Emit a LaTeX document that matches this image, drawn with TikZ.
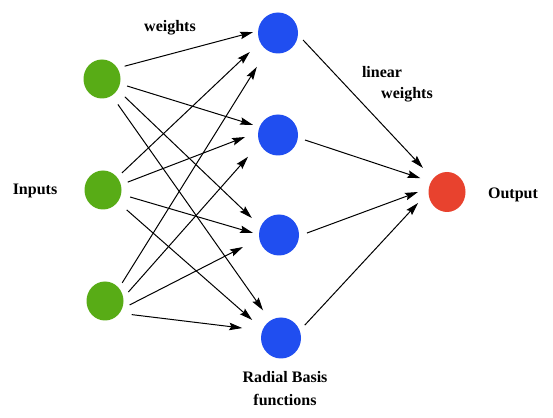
\documentclass[tikz,border=0pt]{standalone}
\usepackage{fontspec}
\setmainfont{Liberation Serif}
\usetikzlibrary{arrows.meta,calc,shapes.geometric}
\definecolor{ingreen}{RGB}{88,172,22}
\definecolor{rbfblue}{RGB}{32,78,240}
\definecolor{outred}{RGB}{232,66,46}
\tikzset{
  neuron/.style={ellipse,draw=none,inner sep=0pt},
  innode/.style={neuron,fill=ingreen,minimum width=37pt,minimum height=39pt},
  rbfnode/.style={neuron,fill=rbfblue,minimum width=40pt,minimum height=41pt},
  outnode/.style={neuron,fill=outred,minimum width=37pt,minimum height=40pt},
  arr/.style={line width=1pt,-{Stealth[length=13pt,width=7.5pt,inset=2pt]}},
  lbl/.style={font=\fontsize{16}{18}\selectfont\bfseries,inner sep=0pt,align=center}
}
\begin{document}
\begin{tikzpicture}[x=1pt,y=1pt]
\useasboundingbox (0,0) rectangle (553,417);
\fill[white] (0,0) rectangle (553,417);
% nodes
\node[innode] (g1) at (102,338) {};
\node[innode] (g2) at (103,227) {};
\node[innode] (g3) at (105,116) {};
\node[rbfnode] (b1) at (278,384) {};
\node[rbfnode] (b2) at (278,282) {};
\node[rbfnode] (b3) at (279,182) {};
\node[rbfnode] (b4) at (281,79) {};
\node[outnode] (o) at (447,225) {};
% labels
\node[lbl] (lw) at (170,389) {weights};
\node[lbl] (li) at (35,226) {Inputs};
\node[lbl] (ll1) at (382,345) {linear};
\node[lbl] (ll2) at (407,322) {weights};
\node[lbl] (lo) at (513,222) {Output};
\node[lbl] (lr1) at (285,40) {Radial Basis};
\node[lbl] (lr2) at (285,17) {functions};
% input -> rbf
\draw[arr] ($(g1)+(29.5:26)$) -- ($(b1)+(178:25)$);
\draw[arr] ($(g1)+(-15.6:26)$) -- ($(b2)+(158:27)$);
\draw[arr] ($(g1)+(-38:29)$) -- ($(b3)+(148:32)$);
\draw[arr] ($(g1)+(-58:30)$) -- ($(b4)+(123:33)$);
\draw[arr] ($(g2)+(42:25.5)$) -- ($(b1)+(214:34)$);
\draw[arr] ($(g2)+(17.7:26)$) -- ($(b2)+(183.5:33)$);
\draw[arr] ($(g2)+(-14.5:28)$) -- ($(b3)+(175.6:26)$);
\draw[arr] ($(g2)+(-40:31)$) -- ($(b4)+(148:34)$);
\draw[arr] ($(g3)+(46.6:25)$) -- ($(b1)+(238:40)$);
\draw[arr] ($(g3)+(21:25)$) -- ($(b2)+(216:37)$);
\draw[arr] ($(g3)+(-9:25)$) -- ($(b3)+(198.4:38)$);
\draw[arr] ($(g3)+(-27:30)$) -- ($(b4)+(165.6:40)$);
% rbf -> output
\draw[arr] ($(b1)+(-15.6:26)$) -- ($(o)+(135:34)$);
\draw[arr] ($(b2)+(-10.5:27.5)$) -- ($(o)+(152.6:30)$);
\draw[arr] ($(b3)+(4:28)$) -- ($(o)+(180:29)$);
\draw[arr] ($(b4)+(28.4:27)$) -- ($(o)+(200.8:31)$);
\end{tikzpicture}
\end{document}
